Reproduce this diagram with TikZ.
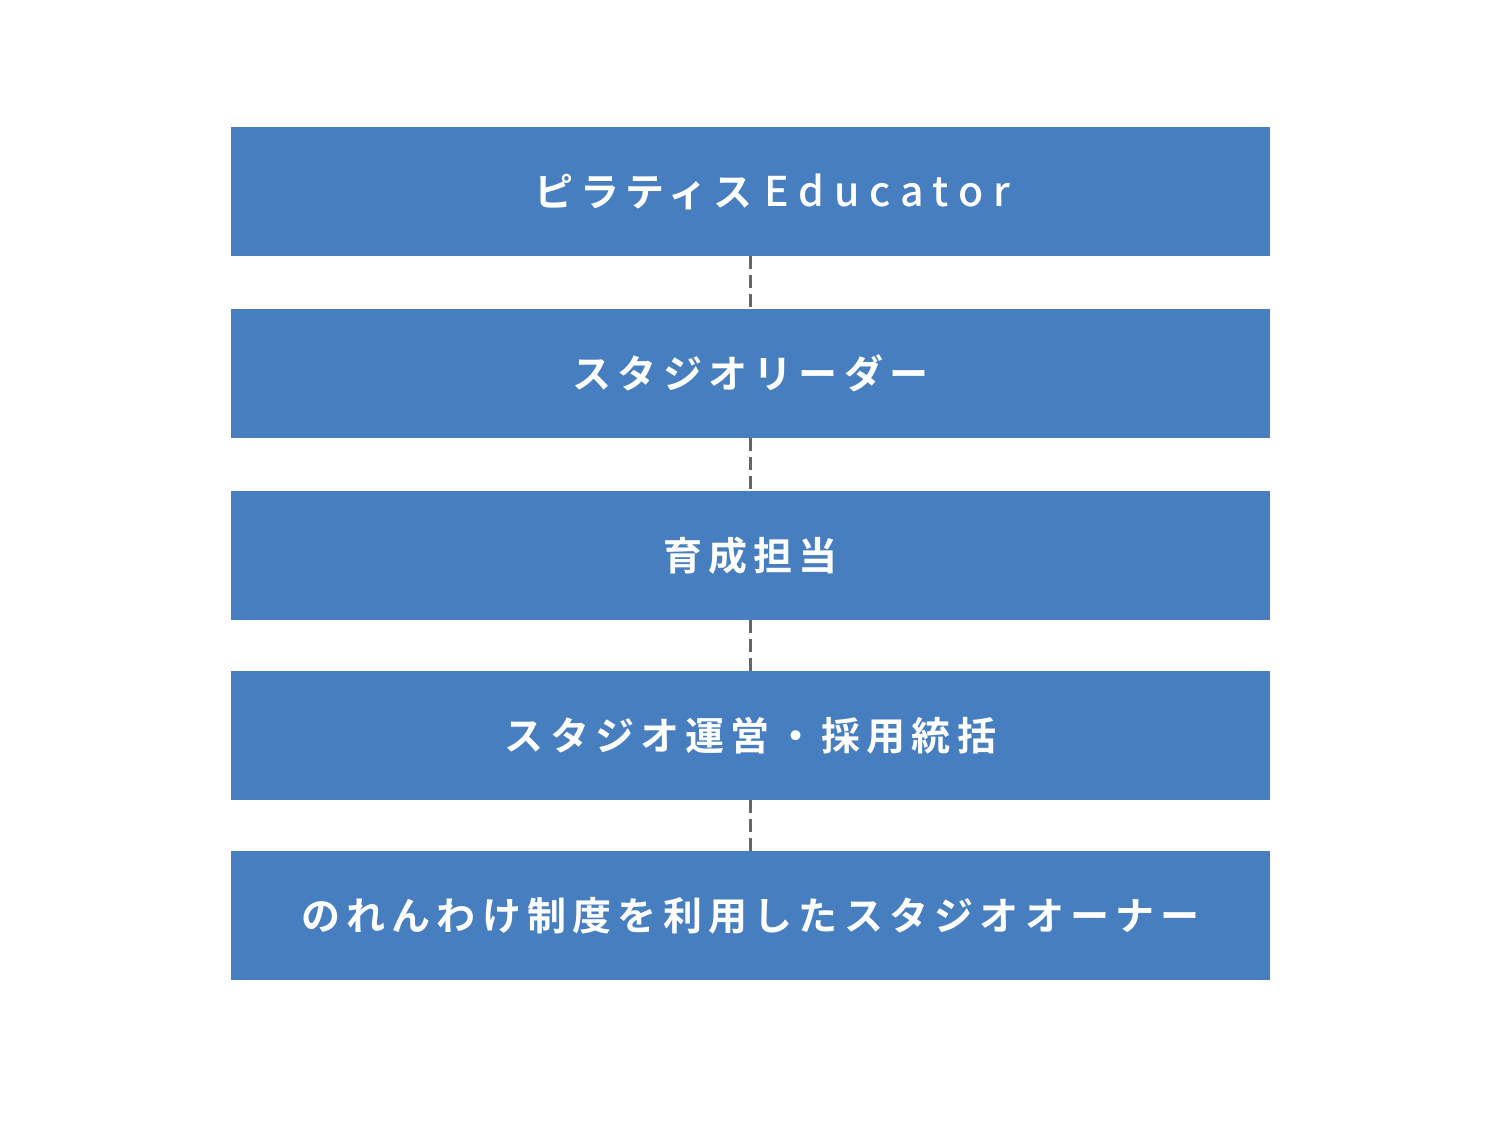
\documentclass[tikz,border=0pt]{standalone}
\usepackage{fontspec}
\usepackage{xcolor}
\usepackage{tikz}
\usetikzlibrary{positioning}
\newfontfamily\jpfont[LetterSpace=16]{Noto Sans CJK JP Bold}
\newfontfamily\latinfont[LetterSpace=24]{Noto Sans CJK JP Medium}
\definecolor{boxblue}{HTML}{477EBF}
\definecolor{linegray}{HTML}{666666}

\begin{document}
\begin{tikzpicture}[x=1pt,
				y=-1pt,
				stage/.style={fill=boxblue, minimum width=1039pt, minimum height=129pt, inner sep=0pt, text=white, font=\jpfont\fontsize{39pt}{44pt}\selectfont},
				link/.style={linegray, line width=2.6pt, dash pattern=on 13pt off 6pt}]
				\useasboundingbox (0,0) rectangle (1501,1127);
				\node at (750.5,191.5) (educator) [stage] {\hspace*{44pt}ピラティス\hspace{12pt}{\latinfont\fontsize{41pt}{44pt}\selectfont Educator}};
				\node at (750.5,373.5) (leader) [stage] {スタジオリーダー};
				\node at (750.5,555.5) (training) [stage] {育成担当};
				\node at (750.5,735.5) (manager) [stage] {スタジオ運営・採用統括};
				\node at (750.5,915.5) (owner) [stage] {のれんわけ制度を利用したスタジオオーナー};
				\draw [link] (educator.south) -- (leader.north);
				\draw [link] (leader.south) -- (training.north);
				\draw [link] (training.south) -- (manager.north);
				\draw [link] (manager.south) -- (owner.north);
			\end{tikzpicture}
\end{document}
